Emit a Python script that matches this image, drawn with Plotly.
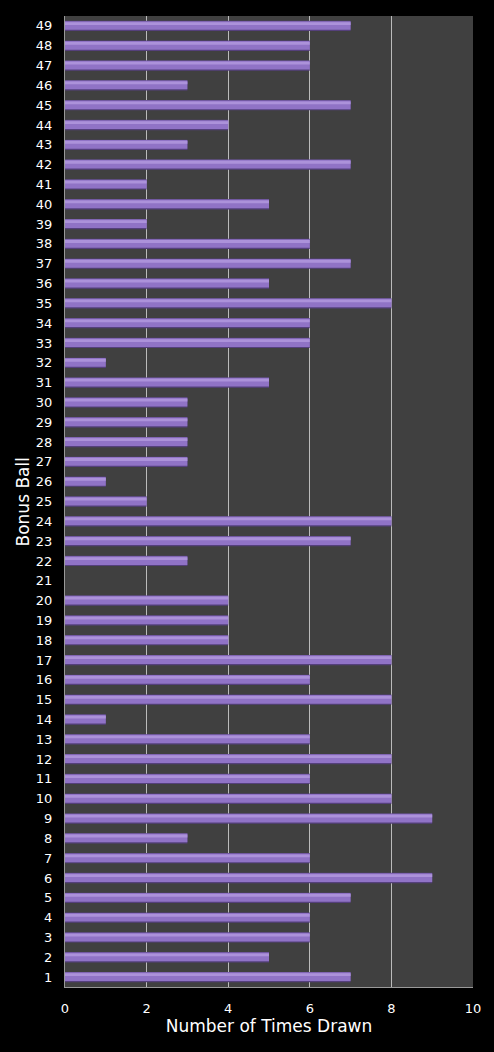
import plotly.graph_objects as go

balls = list(range(1, 50))
times_drawn = [7, 5, 6, 6, 7, 9, 6, 3, 9, 8,
               6, 8, 6, 1, 8, 6, 8, 4, 4, 4,
               0, 3, 7, 8, 2, 1, 3, 3, 3, 3,
               5, 1, 6, 6, 8, 5, 7, 6, 2, 5,
               2, 7, 3, 4, 7, 3, 6, 6, 7]
x_ticks = [0, 2, 4, 6, 8, 10]

fig = go.Figure()
# bevelled bar look: dark base, main body, light highlight
layers = [
    (0.52, -0.26, "#55407C"),
    (0.44, -0.20, "#9073C6"),
    (0.14, 0.05, "#AC92DA"),
]
for w, off, col in layers:
    fig.add_trace(go.Bar(
        x=times_drawn, y=balls, orientation="h",
        width=w, offset=off,
        marker=dict(color=col, line=dict(width=0)),
        hoverinfo="x+y", showlegend=False,
    ))

fig.update_layout(
    barmode="overlay",
    width=494, height=1052,
    paper_bgcolor="#000000",
    plot_bgcolor="#404040",
    margin=dict(l=65, r=21, t=16, b=65),
    font=dict(family="DejaVu Sans, Verdana, sans-serif", color="#FFFFFF", size=13),
    xaxis=dict(
        range=[0, 10], tickvals=x_ticks, ticks="outside", ticklen=9,
        tickcolor="rgba(0,0,0,0)", showgrid=True,
        gridcolor="#BBBBBB", gridwidth=1, zeroline=False,
        showline=True, linecolor="#999999", linewidth=1, mirror=False,
        title=dict(text="Number of Times Drawn", font=dict(size=17), standoff=4),
        tickfont=dict(size=13),
    ),
    yaxis=dict(
        range=[0.5, 49.5], tickvals=balls, ticks="outside", ticklen=9,
        tickcolor="rgba(0,0,0,0)", showgrid=False,
        zeroline=False, showline=True, linecolor="#999999", linewidth=1,
        tickfont=dict(size=13),
    ),
    annotations=[dict(
        text="Bonus Ball", textangle=-90, showarrow=False,
        xref="paper", yref="paper", x=-0.103, y=0.5,
        xanchor="center", yanchor="middle",
        font=dict(size=17, color="#FFFFFF"),
    )],
)

fig.write_html("out.html")
